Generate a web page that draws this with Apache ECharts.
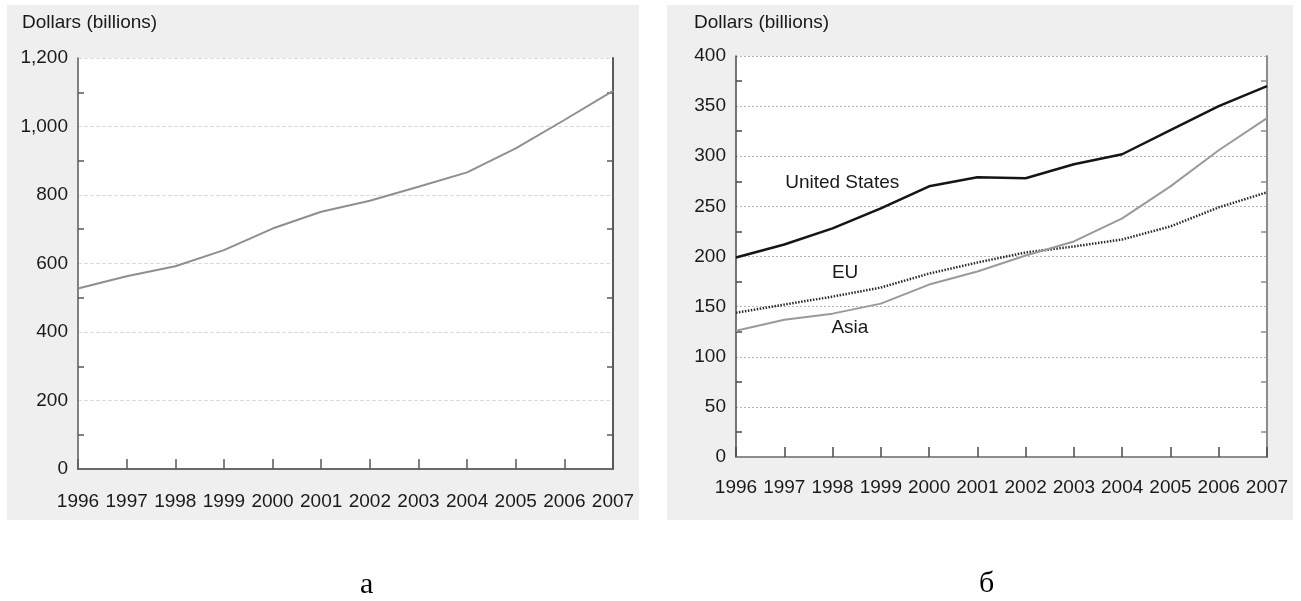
<!DOCTYPE html>
<html>
<head>
<meta charset="utf-8">
<script src="https://cdn.jsdelivr.net/npm/echarts@6/dist/echarts.min.js"></script>
<style>
  html, body { margin: 0; padding: 0; background: #ffffff; }
  #chart { width: 1301px; height: 601px; }
</style>
</head>
<body>
<div id="chart"></div>
<script>
// Years on the horizontal axis (shared by both panels)
const years = [1996, 1997, 1998, 1999, 2000, 2001, 2002, 2003, 2004, 2005, 2006, 2007];

// Panel а: total, dollars (billions)
const totalValues = [527, 563, 592, 639, 702, 751, 783, 824, 866, 936, 1019, 1104];
const totalTicks = [0, 200, 400, 600, 800, 1000, 1200];

// Panel б: by region, dollars (billions)
const usValues   = [199, 212, 228, 248, 270, 279, 278, 292, 302, 326, 350, 370];
const euValues   = [144, 152, 160, 169, 183, 194, 204, 210, 217, 230, 249, 264];
const asiaValues = [126, 137, 143, 153, 172, 185, 201, 215, 238, 270, 306, 338];
const regionTicks = [0, 50, 100, 150, 200, 250, 300, 350, 400];

// Inline series names and where they sit, in data units [year, value]
const seriesNames = ['United States', 'EU', 'Asia'];
const nameAnchors = [[1998.2, 274], [1998.26, 184], [1998.36, 129]];

const axisTitle = 'Dollars (billions)';
const panelCaptions = ['а', 'б'];

const FONT = '"Liberation Sans", Arial, Helvetica, sans-serif';
const TXT = '#1a1a1a';

const toPairs = vals => vals.map((v, i) => [years[i], v]);
const fmtThousands = v => Number(v).toLocaleString('en-US');

function xAxes(gridIndex, lineColor, frameColor, labelMargin) {
  return [
    {
      gridIndex, type: 'value', position: 'bottom',
      min: years[0], max: years[years.length - 1], interval: 1,
      axisLine: { show: true, lineStyle: { color: lineColor, width: 1.5 } },
      axisTick: { show: true, inside: true, length: 10, lineStyle: { color: lineColor, width: 1.5 } },
      axisLabel: { show: true, margin: labelMargin, fontSize: 19, fontFamily: FONT, color: TXT,
                   formatter: v => String(v) },
      splitLine: { show: false }
    },
    {
      gridIndex, type: 'value', position: 'top',
      min: years[0], max: years[years.length - 1], interval: 1,
      axisLine: { show: true, lineStyle: { color: frameColor, width: 2 } },
      axisTick: { show: false }, axisLabel: { show: false }, splitLine: { show: false }
    }
  ];
}

function yAxes(gridIndex, ticks, lineColor, frameColor, gridStyle, formatter) {
  const min = ticks[0], max = ticks[ticks.length - 1], interval = ticks[1] - ticks[0];
  return [
    {
      gridIndex, type: 'value', position: 'left', min, max, interval,
      axisLine: { show: true, lineStyle: { color: lineColor, width: 1.5 } },
      axisTick: { show: false, inside: true },
      minorTick: { show: true, splitNumber: 2, length: 6, lineStyle: { color: lineColor, width: 1.5 } },
      minorSplitLine: { show: false },
      axisLabel: { show: true, margin: 10, fontSize: 19, fontFamily: FONT, color: TXT, formatter },
      splitLine: { show: true, lineStyle: gridStyle }
    },
    {
      gridIndex, type: 'value', position: 'right', min, max, interval,
      axisLine: { show: true, lineStyle: { color: frameColor, width: 2 } },
      axisTick: { show: false, inside: true },
      minorTick: { show: true, splitNumber: 2, length: 6, lineStyle: { color: frameColor, width: 1.5 } },
      axisLabel: { show: false },
      splitLine: { show: false }
    }
  ];
}

function nameMark(i) {
  return {
    symbol: 'circle', symbolSize: 0, silent: true,
    label: { show: true, position: 'inside', formatter: seriesNames[i],
             fontSize: 19, fontFamily: FONT, color: TXT },
    data: [{ coord: nameAnchors[i] }]
  };
}

const chart = echarts.init(document.getElementById('chart'), null, { renderer: 'canvas' });

chart.setOption({
  animation: false,
  backgroundColor: '#ffffff',
  graphic: {
    elements: [
      { type: 'rect', z: -100, shape: { x: 7, y: 5, width: 632, height: 515 }, style: { fill: '#efefef' } },
      { type: 'rect', z: -100, shape: { x: 667, y: 5, width: 626, height: 515 }, style: { fill: '#efefef' } },
      { type: 'text', left: 22, top: 13, style: { text: axisTitle, font: '19px ' + FONT, fill: TXT } },
      { type: 'text', left: 694, top: 13, style: { text: axisTitle, font: '19px ' + FONT, fill: TXT } },
      { type: 'text', left: 360, top: 570, style: { text: panelCaptions[0], font: '30px "Liberation Serif", "Times New Roman", serif', fill: '#000' } },
      { type: 'text', left: 979, top: 569, style: { text: panelCaptions[1], font: '30px "Liberation Serif", "Times New Roman", serif', fill: '#000' } }
    ]
  },
  grid: [
    { left: 78, top: 58, width: 535, height: 411, show: true, backgroundColor: '#ffffff', borderWidth: 0 },
    { left: 736, top: 56, width: 531, height: 401, show: true, backgroundColor: '#ffffff', borderWidth: 0 }
  ],
  xAxis: [
    ...xAxes(0, '#5a5a5a', '#6a6a6a', 23),
    ...xAxes(1, '#4a4a4a', '#8c8c8c', 21)
  ],
  yAxis: [
    ...yAxes(0, totalTicks, '#5a5a5a', '#5a5a5a',
             { color: '#dcdcdc', width: 1, type: 'dashed' }, fmtThousands),
    ...yAxes(1, regionTicks, '#4a4a4a', '#8c8c8c',
             { color: '#b4b4b4', width: 1, type: [2, 2] }, v => String(v))
  ],
  series: [
    {
      name: 'Total', type: 'line', xAxisIndex: 0, yAxisIndex: 0,
      data: toPairs(totalValues), showSymbol: false,
      lineStyle: { color: '#8f8f8f', width: 2 }
    },
    {
      name: seriesNames[0], type: 'line', xAxisIndex: 2, yAxisIndex: 2,
      data: toPairs(usValues), showSymbol: false,
      lineStyle: { color: '#151515', width: 2.5 },
      markPoint: nameMark(0)
    },
    {
      name: seriesNames[1], type: 'line', xAxisIndex: 2, yAxisIndex: 2,
      data: toPairs(euValues), showSymbol: false,
      lineStyle: { color: '#2a2a2a', width: 2.5, type: [1.5, 1.5] },
      markPoint: nameMark(1)
    },
    {
      name: seriesNames[2], type: 'line', xAxisIndex: 2, yAxisIndex: 2,
      data: toPairs(asiaValues), showSymbol: false,
      lineStyle: { color: '#9a9a9a', width: 2 },
      markPoint: nameMark(2)
    }
  ]
});
</script>
</body>
</html>
